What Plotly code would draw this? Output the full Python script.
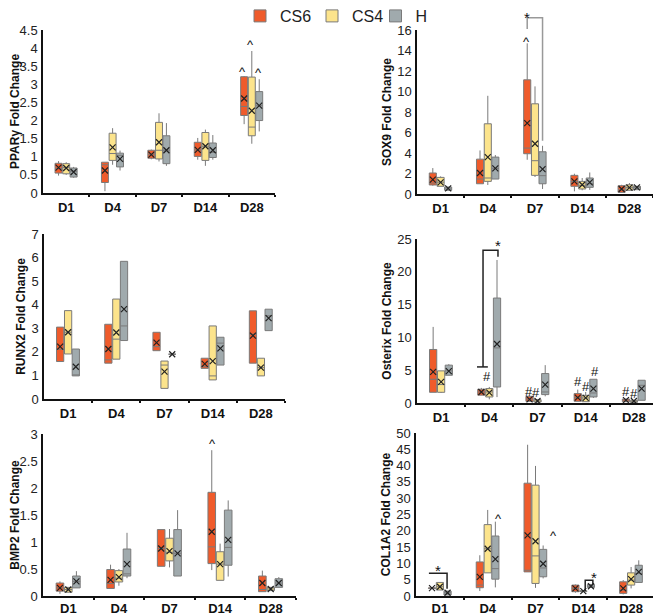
import plotly.graph_objects as go

DAYS = ["D1", "D4", "D7", "D14", "D28"]
SERIES = ["CS6", "CS4", "H"]
COLORS = ["#EF5B2B", "#FCE48C", "#A0AAAD"]
OFFSETS = [-0.165, 0.0, 0.16]

# each tuple per day: (lower whisker, q1, median, q3, upper whisker, mean)
PPARG_CS6 = [(0.48, 0.55, 0.68, 0.82, 0.88, 0.70), (0.05, 0.29, 0.78, 0.85, 0.85, 0.62), (0.93, 0.96, 1.07, 1.18, 1.20, 1.06), (0.92, 1.01, 1.19, 1.40, 1.52, 1.19), (1.90, 2.14, 2.39, 3.21, 3.23, 2.61)]
PPARG_CS4 = [(0.50, 0.53, 0.70, 0.81, 0.85, 0.69), (0.78, 0.90, 1.09, 1.65, 1.79, 1.26), (0.87, 0.94, 1.18, 1.95, 2.20, 1.40), (0.75, 0.90, 1.29, 1.67, 1.75, 1.29), (1.36, 1.58, 1.82, 3.20, 3.92, 2.27)]
PPARG_H = [(0.42, 0.44, 0.60, 0.69, 0.72, 0.58), (0.62, 0.72, 1.04, 1.10, 1.17, 0.94), (0.75, 0.81, 1.18, 1.58, 1.93, 1.18), (0.92, 0.98, 1.12, 1.38, 1.60, 1.18), (1.70, 2.00, 2.41, 2.80, 3.14, 2.41)]

SOX9_CS6 = [(0.81, 0.88, 1.07, 2.05, 2.53, 1.40), (1.0, 1.0, 1.46, 3.40, 4.25, 2.05), (3.34, 3.93, 4.48, 11.14, 14.7, 6.92), (0.26, 0.75, 1.23, 1.82, 1.98, 1.23), (0.16, 0.16, 0.40, 0.81, 0.90, 0.49)]
SOX9_CS4 = [(0.75, 0.75, 1.15, 1.62, 1.72, 1.14), (0.88, 1.23, 1.56, 6.85, 9.58, 3.60), (1.66, 1.82, 3.25, 8.80, 10.5, 4.90), (0.36, 0.49, 0.85, 1.23, 1.56, 0.90), (0.36, 0.36, 0.62, 0.90, 1.07, 0.62)]
SOX9_H = [(0.36, 0.36, 0.50, 0.68, 0.68, 0.55), (1.46, 1.46, 2.50, 3.60, 3.80, 2.50), (0.49, 1.0, 1.79, 4.12, 4.70, 2.43), (0.40, 0.65, 1.0, 1.56, 2.10, 1.14), (0.42, 0.42, 0.65, 0.75, 0.75, 0.65)]

RUNX2_CS6 = [(1.59, 1.59, 2.11, 3.05, 3.05, 2.22), (1.52, 1.52, 1.66, 3.17, 3.17, 2.12), (2.05, 2.05, 2.22, 2.83, 2.83, 2.39), (1.30, 1.30, 1.37, 1.73, 1.73, 1.49), (1.52, 1.52, 2.75, 3.74, 3.74, 2.69)]
RUNX2_CS4 = [(1.91, 1.91, 2.83, 3.75, 3.75, 2.83), (1.69, 1.69, 2.54, 4.24, 4.24, 2.82), (0.45, 0.45, 1.44, 1.61, 1.61, 1.16), (0.81, 0.81, 0.98, 3.10, 3.10, 1.61), (0.98, 0.98, 1.33, 1.73, 1.73, 1.33)]
RUNX2_H = [(0.98, 0.98, 1.02, 2.12, 2.12, 1.37), (2.48, 2.48, 3.10, 5.84, 5.84, 3.81), (1.90, 1.90, 1.90, 1.90, 1.90, 1.90), (1.44, 1.44, 2.37, 2.62, 2.62, 2.15), (2.90, 2.90, 3.53, 3.81, 3.81, 3.43)]

OSX_CS6 = [(1.63, 1.63, 3.62, 8.16, 11.6, 4.74), (1.2, 1.2, 1.68, 2.1, 2.3, 1.68), (0.26, 0.26, 0.60, 1.02, 1.12, 0.56), (0.26, 0.26, 0.82, 1.43, 2.04, 0.82), (0.20, 0.20, 0.45, 0.61, 0.61, 0.45)]
OSX_CS4 = [(1.53, 1.63, 2.81, 4.90, 4.90, 3.21), (0.56, 0.92, 1.68, 2.2, 2.45, 1.58), (0.15, 0.15, 0.30, 0.51, 0.55, 0.31), (0.2, 0.2, 0.77, 1.17, 1.68, 0.77), (0.1, 0.1, 0.3, 0.41, 0.41, 0.3)]
OSX_H = [(4.23, 4.23, 4.90, 5.77, 5.92, 4.85), (0.9, 2.44, 8.4, 16.0, 21.8, 9.0), (1.02, 1.28, 1.68, 4.49, 5.77, 2.81), (0.77, 0.92, 1.53, 3.62, 3.62, 2.19), (0.41, 0.41, 2.7, 3.47, 3.47, 2.19)]

BMP2_CS6 = [(0.04, 0.09, 0.15, 0.24, 0.27, 0.15), (0.14, 0.14, 0.23, 0.49, 0.58, 0.30), (0.55, 0.55, 0.88, 1.23, 1.23, 0.88), (0.48, 0.60, 0.91, 1.92, 2.70, 1.19), (0.08, 0.08, 0.12, 0.37, 0.47, 0.24)]
BMP2_CS4 = [(0.07, 0.07, 0.12, 0.16, 0.16, 0.12), (0.19, 0.26, 0.33, 0.47, 0.50, 0.35), (0.53, 0.65, 0.81, 1.07, 1.24, 0.83), (0.29, 0.29, 0.59, 0.82, 0.97, 0.59), (0.10, 0.10, 0.13, 0.16, 0.16, 0.13)]
BMP2_H = [(0.15, 0.15, 0.27, 0.37, 0.46, 0.27), (0.33, 0.37, 0.41, 0.87, 1.17, 0.59), (0.37, 0.37, 0.79, 1.23, 1.59, 0.79), (0.36, 0.57, 0.90, 1.59, 1.77, 1.04), (0.16, 0.16, 0.24, 0.32, 0.35, 0.24)]

COL_CS6 = [(2.3, 2.3, 2.4, 2.5, 2.5, 2.4), (1.52, 2.54, 3.35, 10.45, 12.5, 5.88), (7.4, 7.4, 7.9, 34.6, 46.4, 18.6), (1.0, 1.32, 2.33, 3.35, 3.55, 2.33), (0.5, 0.81, 1.83, 4.36, 4.9, 2.33)]
COL_CS4 = [(1.83, 1.83, 2.84, 4.16, 4.16, 2.84), (7.1, 7.1, 14.5, 21.9, 26.4, 14.5), (2.5, 3.85, 12.3, 34.0, 39.9, 16.8), (1.3, 1.35, 1.5, 1.6, 1.6, 1.5), (2.33, 3.35, 4.87, 7.1, 8.9, 5.17)]
COL_H = [(0.3, 0.3, 1.0, 1.52, 1.52, 1.0), (2.64, 5.17, 8.4, 18.4, 22.8, 11.3), (5.4, 5.9, 8.6, 14.3, 15.5, 9.9), (2.64, 2.64, 3.0, 3.55, 3.55, 3.0), (4.16, 4.16, 6.9, 9.43, 10.95, 7.4)]

TITLES = ["PPARγ Fold Change", "SOX9 Fold Change", "RUNX2 Fold Change",
          "Osterix Fold Change", "BMP2 Fold Change", "COL1A2 Fold Change"]
Y_MAX = [4.5, 16, 7, 25, 3, 50]
Y_DTICK = [0.5, 2, 1, 5, 0.5, 5]

PANELS = [
    (PPARG_CS6, PPARG_CS4, PPARG_H),
    (SOX9_CS6, SOX9_CS4, SOX9_H),
    (RUNX2_CS6, RUNX2_CS4, RUNX2_H),
    (OSX_CS6, OSX_CS4, OSX_H),
    (BMP2_CS6, BMP2_CS4, BMP2_H),
    (COL_CS6, COL_CS4, COL_H),
]

# significance marks: (panel, x position in day units, y value, symbol)
SIG_MARKS = [
    (0, 3.80, 3.44, "^"), (0, 3.97, 4.18, "^"), (0, 4.14, 3.40, "^"),
    (1, 1.82, 15.2, "^"), (1, 1.84, 17.5, "*"),
    (3, 1.19, 24.4, "*"), (3, 0.96, 4.0, "#"),
    (3, 1.82, 1.83, "#"), (3, 1.97, 1.57, "#"),
    (3, 2.83, 3.25, "#"), (3, 3.0, 2.59, "#"), (3, 3.19, 4.77, "#"),
    (3, 3.84, 1.72, "#"), (3, 4.0, 1.47, "#"),
    (4, 2.85, 2.88, "^"),
    (5, -0.04, 8.8, "*"), (5, 1.22, 24.6, "^"), (5, 2.37, 19.6, "^"), (5, 3.22, 6.7, "*"),
]

# comparison brackets: (panel, xs, ys, colour)
BRACKETS = [
    (1, [1.835, 1.835, 2.16, 2.16], [16.1, 17.2, 17.2, 5.2], "#999999"),
    (3, [0.87, 0.87, 1.18, 1.18], [5.5, 23.3, 23.3, 22.3], "#222222"),
    (3, [0.745, 0.97], [5.5, 5.5], "#222222"),
    (5, [-0.23, 0.15, 0.15], [7.0, 7.0, 2.2], "#222222"),
    (5, [3.04, 3.04, 3.2, 3.2], [1.5, 4.8, 4.8, 3.6], "#222222"),
]

# figure size (the page adds an 8px margin around it) and panel plot areas (left, right, top, bottom)
W, H = 653, 608
AREAS = [
    (35, 267, 22, 185), (409, 645, 22, 186),
    (36, 277, 226, 391), (409, 650, 231, 395),
    (35, 288, 426, 588), (408, 647, 425, 588),
]
HEADROOM = 20  # px of extra room above each panel for brackets and marks
LEGEND_X = [232, 304, 367.5]

FONT = "Liberation Sans, Arial, sans-serif"

fig = go.Figure()
layout = dict(
    width=W, height=H,
    margin=dict(l=0, r=0, t=0, b=0, autoexpand=False),
    paper_bgcolor="white", plot_bgcolor="rgba(0,0,0,0)",
    font=dict(family=FONT, color="#222"),
    boxmode="overlay",
    showlegend=True,
    annotations=[],
)
for s in range(3):
    key = "legend" if s == 0 else f"legend{s+1}"
    layout[key] = dict(orientation="h", x=LEGEND_X[s] / W, y=1 + 9 / H,
                       xanchor="left", yanchor="top",
                       font=dict(size=16, family=FONT, color="#222"),
                       bgcolor="rgba(0,0,0,0)")


def axis_ids(p):
    return ("x" if p == 0 else f"x{p+1}"), ("y" if p == 0 else f"y{p+1}")


for p, series in enumerate(PANELS):
    xa, ya = axis_ids(p)
    for s, stats in enumerate(series):
        xs = [d + OFFSETS[s] for d in range(len(DAYS))]
        fig.add_trace(go.Box(
            x=xs,
            lowerfence=[t[0] for t in stats],
            q1=[t[1] for t in stats],
            median=[t[2] for t in stats],
            q3=[t[3] for t in stats],
            upperfence=[t[4] for t in stats],
            width=0.15, whiskerwidth=0,
            fillcolor=COLORS[s],
            line=dict(color="#7a7a7a", width=1),
            name=SERIES[s], showlegend=(p == 0),
            legend="legend" if s == 0 else f"legend{s+1}",
            boxpoints=False, hoverinfo="skip",
            xaxis=xa, yaxis=ya,
        ))
        fig.add_trace(go.Scatter(
            x=xs, y=[t[5] for t in stats], mode="markers",
            marker=dict(symbol="x-thin", size=6, line=dict(width=1.2, color="#222")),
            showlegend=False, hoverinfo="skip", xaxis=xa, yaxis=ya,
        ))

    l, r, t, b = AREAS[p]
    xkey = "xaxis" if p == 0 else f"xaxis{p+1}"
    ykey = "yaxis" if p == 0 else f"yaxis{p+1}"
    layout[xkey] = dict(
        domain=[l / W, r / W], anchor=ya, range=[-0.5, len(DAYS) - 0.5],
        tickmode="array", tickvals=list(range(len(DAYS))),
        ticktext=[f"<b>{d}</b>" for d in DAYS],
        ticks="", showgrid=False, zeroline=False,
        showline=True, linecolor="#111", linewidth=1.5,
        tickfont=dict(size=13, family=FONT, color="#111"),
        ticklabelstandoff=0 if p >= 4 else 2,
        minor=dict(tickmode="array", tickvals=[i + 0.5 for i in range(len(DAYS))],
                   ticks="outside", ticklen=2, tickcolor="#111", tickwidth=2),
        fixedrange=True,
    )
    layout[ykey] = dict(
        domain=[1 - b / H, 1 - t / H], anchor=xa, range=[0, Y_MAX[p]],
        dtick=Y_DTICK[p], tick0=0, ticks="", showgrid=False, zeroline=False,
        showline=True, linecolor="#111", linewidth=1.5,
        tickfont=dict(size=13, family=FONT, color="#222"),
        title=dict(text=f"<b>{TITLES[p]}</b>", font=dict(size=12, family=FONT, color="#111"), standoff=3),
        ticklabelstandoff=1,
        fixedrange=True,
    )

# hidden y axes that share each panel's scale but reach a little higher, so that
# brackets and marks drawn above the top tick are neither clipped nor hidden
EXT_AXIS = {}
for p in range(len(PANELS)):
    l, r, t, b = AREAS[p]
    n = 7 + p
    t_ext = t - HEADROOM
    layout[f"yaxis{n}"] = dict(
        domain=[1 - b / H, 1 - t_ext / H], anchor=axis_ids(p)[0],
        range=[0, Y_MAX[p] * (b - t_ext) / (b - t)], visible=False, fixedrange=True,
    )
    EXT_AXIS[p] = f"y{n}"

for bp, xs, ys, col in BRACKETS:
    fig.add_trace(go.Scatter(x=xs, y=ys, mode="lines", line=dict(color=col, width=1.5),
                             showlegend=False, hoverinfo="skip",
                             xaxis=axis_ids(bp)[0], yaxis=EXT_AXIS[bp]))

for p, x, y, sym in SIG_MARKS:
    xa = axis_ids(p)[0]
    yshift = -3 if sym in "^*" else 0
    layout["annotations"].append(dict(
        x=x, y=y, xref=xa, yref=EXT_AXIS[p], text=sym, showarrow=False,
        xanchor="center", yanchor="middle", yshift=yshift,
        font=dict(size=15 if sym == "*" else 13, family=FONT, color="#111"),
    ))

fig.update_layout(**layout)
fig.write_html("out.html")
